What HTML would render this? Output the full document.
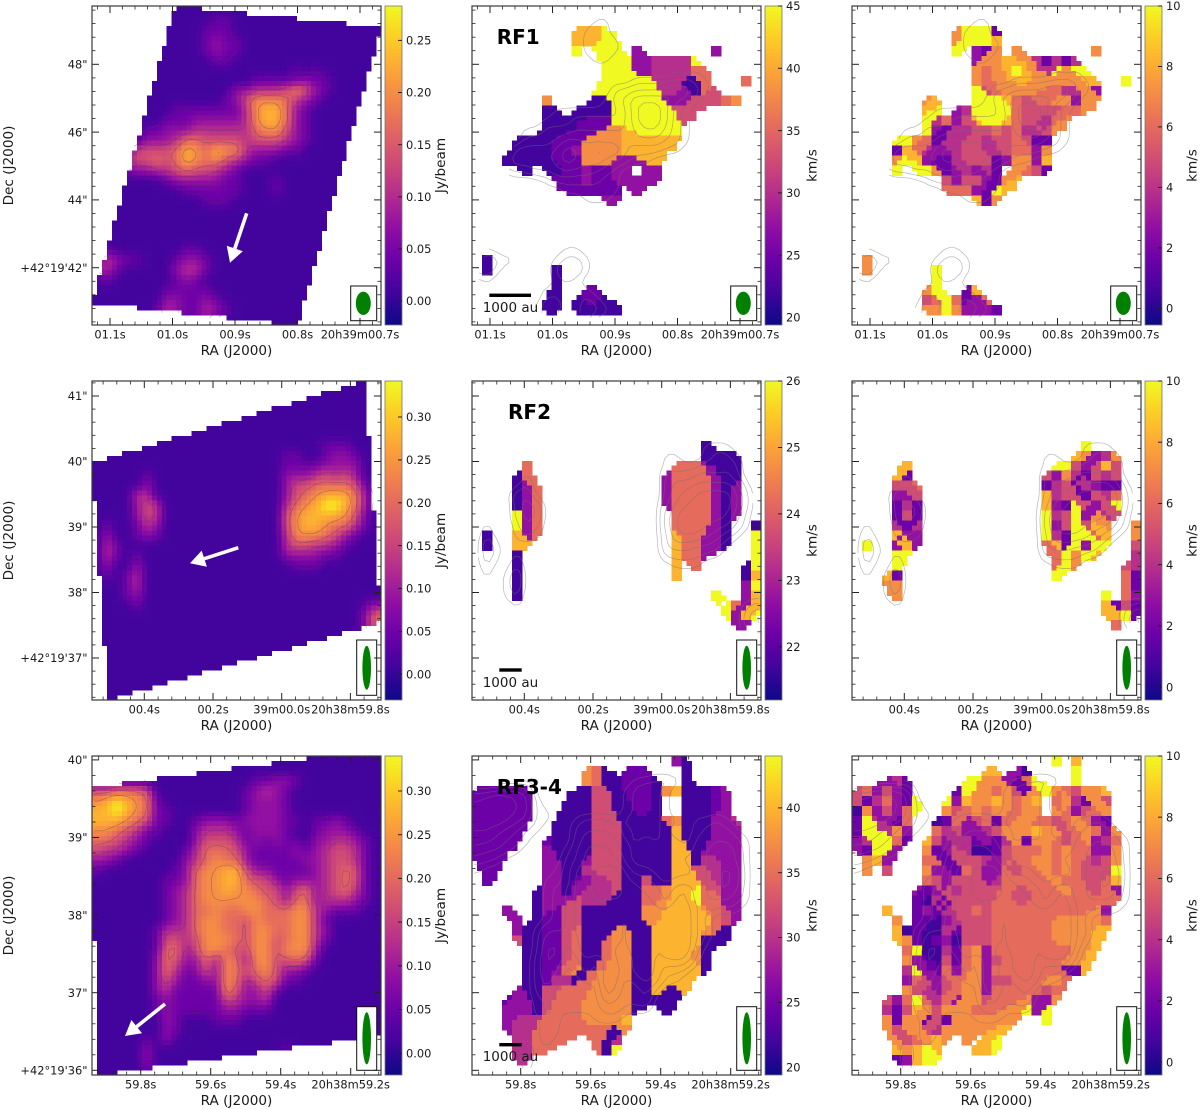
<!DOCTYPE html>
<html lang="en">
<head>
<meta charset="utf-8">
<title>RF1, RF2 and RF3-4 intensity, velocity and line-width maps</title>
<style>
html,body{margin:0;padding:0;background:#fff;width:1200px;height:1110px;overflow:hidden}
svg{display:block}
text{font-family:"DejaVu Sans","Liberation Sans",sans-serif;fill:#1a1a1a}
</style>
</head>
<body>
<svg id="figure" xmlns="http://www.w3.org/2000/svg" width="1200" height="1110" viewBox="0 0 1200 1110"></svg>
<script>
// Map values: each character is a level 0-9 across the panel's colorbar range; '.' is blank.
const rf1IntensityValues = [
"11111111111111111111111111111","11111111111122111111111111111","11111111111222111111111111111","11111111111232211111111111111",
"11111111111232211111111111111","11111111111122111111111111111","11111111111111111111212111111","11111111111111112222232211111",
"11111111111111334445753211111","11111111111112357776432111111","11111111222222247886321111111","11111112223333347886321111111",
"11111223334444446775321111111","11111333466555545554321111111","11115555687687743332211111111","11145565687675432211111111111",
"11123344565543211111111111111","11111112333332211121111111111","11111111122222211121111111111","11111111111222111111111111111",
"1","1","1","1",
"12111111122","243221112332","342111113442","12111111232",
"111111122222","1111111332232","11111124322432","111111132223"
];
const rf1VelocityValues = [
"","",
"..........8889","..........88899","..........9.999.3.......3",".............9993344449",
".............99933444466",".............99999444116...6","............9999999443165",".......7....119999933355567",
".......11.1111999999555",".......111122299999995",".......11122277899999","....11112227777888888",
"....1111223777788888","...1111122277733388",".....1.112232233.33","........22232233333",
".........222222.3",".............33","","","","",
"",".1",".1......1","........1","........1..22",".......11.1221",".......11.11111",""
];
const rf1WidthValues = [
"","",
"..........79992","..........79998","..........9.327.7.......7","............37788742424",
"............767898749799","............7677887777788..9","............9567777664473",".......78...9998656677377",
".......89.34999965555667",".......946358998655467",".......93244556564457","....9976244554556522",
"....2864334554456637","....7983224555237738","....9.997234342.7652",".........53553278",
".........6663298","............827","","","","",
"",".7",".7......9","........9",".......79..28",".......5696236",".......77973332",""
];
const rf2IntensityValues = [
"1","1","1","1","1","1",
"11111111111111111111111222","111111111111111111122112332","111111111111111111122223333","111112111111111111133345453",
"1111131111111111111355666652","1111441111111111111356788863","1111354111111111111467899863","1111354111111111111578888752",
"1211243111111111111578876642","131123211111111111147776532","14211111111111111114554432","1421211111111111111333322",
"13113111111111111111222","12124","11124","11123",
"11112111111111111111111111123","11111111111111111111111111136","11111111111111111111111111136","1","1","1","1","1","1","1"
];
const rf2VelocityValues = [
"","","","","","",
".......................1",".......................1111",".....6..............6663111","....16.............36666311",
"....136............36666313","....136............36666313","....136............36666313","....936.............6666313",
"....936.............666631..1",".1..836.............866331..9",".1..88..............866331..9","....1...............8663....9",
"....1...............8.6....19","....1...............8......18","....1......................39","....1...................9..38",
".........................9638",".........................9389","..........................33","","","","","","",""
];
const rf2WidthValues = [
"","","","","","",
".......................9","......................87347",".....8..............9953585","....82.............53742545",
"....556............24524322","....335............84552546","....242............83295359","....252............94593745",
"....424............9359587..7","....833............9429968..7",".9..383............6829399..5","....99..............69798...4",
"....9...............697....54","...82...............9......62","...77......................62","....7....................9.63",
".........................8252",".........................8892","..........................6","","","","","","",""
];
const rf34IntensityValues = [
"1","1","11111111111111112233211","55666511111111123432","78987621111111123332","88987622111111123332",
"88876522112333233332212232111","77654221113444323332112333211","66543211113555423232213344321","54432111124666532222323455421",
"33211111134676632222233455421","21111111236778853322223456521","11111112236778865532333456521","11111112346778776553563456421",
"11111112346777777653663444321","11111112346676677666774322211","11111112346776657666774211111","11111124446776657766774311111",
"11111125545777657756774211111","11111126635776557757773111111","11111136533637637755652111111","11111136423537656753321111111",
"11111135322337635652211111111","11111134222227533521111111111","11111123222225433411111111111","11111123222223322211111111111",
"11111113211122211111","111111132111","11111213111111111111","11111311111111111112","11111311111111111112","111112"
];
const rf34VelocityValues = [
"....................31","...........761.222...1","...........76112221..1","222222....1155122217811123",
"222222...1115511221..11123","222222...1115511221..11123","222222..1111555111167111334","22222...1111555111118111333",
"22222..21111555111118111333","2222...31111555111118813333","222....33113555111118814433",".22....33114555111118855433",
".2.....33123445115118885433","......133134445116678896533","......133354441116678896633","...3..132551111117788887653",
"....3.122551111117788888653","....3112256111771188888761","....5112256116771188888111",".....1122561167711888871",
".....1122561167711888871",".....1123671677711888881",".....11244167777118888","....311556667777118118",
"...233156667777711111","...33315666777771..1","...3444666677778","...3446666666617",
"....446666..614","....4466....619","....44",""
];
const rf34WidthValues = [
"....................9.8",".............88.31....9","...342.....99773269...9","563532....2977675279765778",
"5246329..9387787678.674275","1735369..7567677677.763567","294326..126356267766567632","299473..6453345777877567637",
"349962.85344232472776567346","32993..72354112566676766337",".783...66255543566776765457",".7.5...73326533656676765559",
".......65355534666667665568","......323545555655666766563","......214255556655666666666","...8..23245565666666666673",
"....7.22134555666666777776","....8121142555666666777788","....872123155566666677778",".....69114267366666666778",
".....7321526735666666778",".....4932636736666666228",".....36535677355666776",".....7543567736666656",
"...536964637756667337","...42587577766677939","...72772527777777..9","...7577547777788",
"....756787.7.89","....87898...889","....23899",""
];
const rf1RaTicks = [1.1, 1.0, 0.9, 0.8, 0.7];
const rf1RaLabels = ["01.1s", "01.0s", "00.9s", "00.8s", "20h39m00.7s"];
const rf1DecTicks = [48, 46, 44, 42];
const rf1DecLabels = ['48"', '46"', '44"', "+42°19'42\""];
const rf2RaTicks = [0.4, 0.2, 0, -0.2];
const rf2RaLabels = ["00.4s", "00.2s", "39m00.0s", "20h38m59.8s"];
const rf2DecTicks = [41, 40, 39, 38, 37];
const rf2DecLabels = ['41"', '40"', '39"', '38"', "+42°19'37\""];
const rf34RaTicks = [-0.2, -0.4, -0.6, -0.8];
const rf34RaLabels = ["59.8s", "59.6s", "59.4s", "20h38m59.2s"];
const rf34DecTicks = [40, 39, 38, 37, 36];
const rf34DecLabels = ['40"', '39"', '38"', '37"', "+42°19'36\""];
const rf1IntensityBarTicks = [0, 0.05, 0.10, 0.15, 0.20, 0.25];
const rf1VelocityBarTicks = [20, 25, 30, 35, 40, 45];
const rf1WidthBarTicks = [0, 2, 4, 6, 8, 10];
const rf2IntensityBarTicks = [0, 0.05, 0.10, 0.15, 0.20, 0.25, 0.30];
const rf2VelocityBarTicks = [22, 23, 24, 25, 26];
const rf2WidthBarTicks = [0, 2, 4, 6, 8, 10];
const rf34IntensityBarTicks = [0, 0.05, 0.10, 0.15, 0.20, 0.25, 0.30];
const rf34VelocityBarTicks = [20, 25, 30, 35, 40];
const rf34WidthBarTicks = [0, 2, 4, 6, 8, 10];
const contourLevels = [1.7, 2.6, 4, 5.5, 7];

const plasmaStops = ["#0d0887","#41049d","#6a00a8","#8f0da4","#b12a90","#cc4778","#e16462","#f2844b","#fca636","#fcce25","#f0f921"];
const NS = "http://www.w3.org/2000/svg";
const svg = document.getElementById("figure");
const GRID_COLS = 29, GRID_ROWS = 32, SUB = 2;

function make(parent, tag, name, props) {
  const el = document.createElementNS(NS, tag);
  
  
  for (const k in props) el.setAttribute(k, props[k]);
  parent.appendChild(el);
  return el;
}
function label(parent, name, str, props) {
  const el = make(parent, "text", name, props);
  el.textContent = str;
  return el;
}
function hexRgb(h) { return [1, 3, 5].map(i => parseInt(h.substr(i, 2), 16)); }
const plasmaRgb = plasmaStops.map(hexRgb);
function plasma(t) {
  t = Math.max(0, Math.min(1, t));
  const p = t * 10, i = Math.min(9, Math.floor(p)), f = p - i;
  const a = plasmaRgb[i], b = plasmaRgb[i + 1];
  return "rgb(" + a.map((v, k) => Math.round(v + (b[k] - v) * f)).join(",") + ")";
}
function levelFraction(d) { return d <= 8 ? d / 9.6 : 0.8333 + (d - 8) * 0.1667; }
function inside(poly, ra, dec) {
  let hit = false;
  for (let i = 0, j = poly.length - 1; i < poly.length; j = i++) {
    const a = poly[i], b = poly[j];
    if ((a[1] > dec) !== (b[1] > dec) && ra < (b[0] - a[0]) * (dec - a[1]) / (b[1] - a[1]) + a[0]) hit = !hit;
  }
  return hit;
}
function parseGrid(rows, pad) {
  const out = [];
  for (let j = 0; j < GRID_ROWS; j++) {
    const s = (rows[j] || "").padEnd(GRID_COLS, pad), line = [];
    for (let i = 0; i < GRID_COLS; i++) {
      const n = parseInt(s[i], 10);
      line.push(isNaN(n) ? null : n);
    }
    out.push(line);
  }
  return out;
}
// Doubles a discrete map's resolution (EPX rule) so region edges read as finer steps.
function doubleGrid(g) {
  const at = (i, j) => (j < 0 || j >= GRID_ROWS || i < 0 || i >= GRID_COLS) ? null : g[j][i];
  const out = [];
  for (let j = 0; j < GRID_ROWS * 2; j++) out.push(new Array(GRID_COLS * 2).fill(null));
  for (let j = 0; j < GRID_ROWS; j++) for (let i = 0; i < GRID_COLS; i++) {
    const p = at(i, j), a = at(i, j - 1), b = at(i + 1, j), c = at(i - 1, j), d = at(i, j + 1);
    out[2 * j][2 * i] = (c === a && c !== d && a !== b) ? a : p;
    out[2 * j][2 * i + 1] = (a === b && a !== c && b !== d) ? b : p;
    out[2 * j + 1][2 * i] = (d === c && d !== b && c !== a) ? c : p;
    out[2 * j + 1][2 * i + 1] = (b === d && b !== a && d !== c) ? d : p;
  }
  return out;
}
// Bilinear upsample of the coarse intensity grid followed by a 1-2-1 blur.
function smoothField(g) {
  const nx = GRID_COLS * SUB, ny = GRID_ROWS * SUB, raw = [];
  for (let sj = 0; sj < ny; sj++) {
    const line = [];
    for (let si = 0; si < nx; si++) {
      const gx = Math.max(0, Math.min(GRID_COLS - 1.001, (si + 0.5) / SUB - 0.5));
      const gy = Math.max(0, Math.min(GRID_ROWS - 1.001, (sj + 0.5) / SUB - 0.5));
      const i = Math.floor(gx), j = Math.floor(gy), fx = gx - i, fy = gy - j;
      line.push(g[j][i] * (1 - fx) * (1 - fy) + g[j][i + 1] * fx * (1 - fy) + g[j + 1][i] * (1 - fx) * fy + g[j + 1][i + 1] * fx * fy);
    }
    raw.push(line);
  }
  const at = (i, j) => raw[Math.max(0, Math.min(ny - 1, j))][Math.max(0, Math.min(nx - 1, i))];
  const out = [];
  for (let j = 0; j < ny; j++) {
    const line = [];
    for (let i = 0; i < nx; i++) {
      let s = 0;
      for (let b = -1; b <= 1; b++) for (let a = -1; a <= 1; a++) s += at(i + a, j + b) * (a ? 1 : 2) * (b ? 1 : 2);
      line.push(s / 16);
    }
    out.push(line);
  }
  return out;
}

const defs = make(svg, "defs", "gradient-definitions", {});
const grad = make(defs, "linearGradient", "plasma-gradient", {id: "plasmaBar", x1: 0, y1: 1, x2: 0, y2: 0});
plasmaStops.forEach((c, i) => {
  make(grad, "stop", "plasma-stop", {offset: (i * 10) + "%", "stop-color": c});
});

const figureRows = [
  {key: "rf1", top: 6, bottom: 325, raRange: [1.1288, 0.6664], decRange: [49.72, 40.31],
   raTicks: rf1RaTicks, raLabels: rf1RaLabels, raMinor: 0.02, decTicks: rf1DecTicks, decLabels: rf1DecLabels, decMinor: 0.4,
   footprint: [[0.996, 49.72], [0.6664, 49.10], [0.8008, 40.31], [1.1288, 40.96]],
   beamBox: [350.7, 286, 26, 34.7], beam: [363.3, 303.3, 7.5, 11.7],
   arrow: [246.7, 213.3, 230, 262.7], bar: [489.3, 531, 295.3], barText: 312,
   tag: "RF1", tagX: 496.7, tagY: 44,
   maps: [{data: rf1IntensityValues, smooth: true, v: [-0.023, 0.283], ticks: rf1IntensityBarTicks, digits: 2},
          {data: rf1VelocityValues, v: [19.4, 45], ticks: rf1VelocityBarTicks, digits: 0},
          {data: rf1WidthValues, v: [-0.55, 10], ticks: rf1WidthBarTicks, digits: 0}]},
  {key: "rf2", top: 381, bottom: 700, raRange: [0.5523, -0.2891], decRange: [41.229, 36.359],
   raTicks: rf2RaTicks, raLabels: rf2RaLabels, raMinor: 0.04, decTicks: rf2DecTicks, decLabels: rf2DecLabels, decMinor: 0.2,
   footprint: [[0.5523, 39.98], [-0.2425, 41.229], [-0.2891, 37.55], [0.5057, 36.359]],
   beamBox: [356.7, 640, 20, 55.3], beam: [366.7, 667.7, 4.3, 22],
   arrow: [238.3, 547.7, 190, 563.3], bar: [499.3, 521.7, 670], barText: 687,
   tag: "RF2", tagX: 508, tagY: 419,
   maps: [{data: rf2IntensityValues, smooth: true, v: [-0.03, 0.342], ticks: rf2IntensityBarTicks, digits: 2},
          {data: rf2VelocityValues, v: [21.2, 26], ticks: rf2VelocityBarTicks, digits: 0},
          {data: rf2WidthValues, v: [-0.42, 10], ticks: rf2WidthBarTicks, digits: 0}]},
  {key: "rf3-4", top: 756, bottom: 1075, raRange: [-0.0609, -0.8866], decRange: [40.05, 35.94],
   raTicks: rf34RaTicks, raLabels: rf34RaLabels, raMinor: 0.04, decTicks: rf34DecTicks, decLabels: rf34DecLabels, decMinor: 0.2,
   footprint: [[-0.0609, 39.65], [-0.7323, 40.05], [-0.8866, 40.05], [-0.8866, 36.45], [-0.0743, 35.94]],
   beamBox: [356.7, 1006.7, 20, 63.6], beam: [366.7, 1038.3, 4.3, 26],
   arrow: [165, 1004, 125, 1036], bar: [499.3, 521.7, 1044.7], barText: 1061,
   tag: "RF3-4", tagX: 496.7, tagY: 794,
   maps: [{data: rf34IntensityValues, smooth: true, v: [-0.025, 0.34], ticks: rf34IntensityBarTicks, digits: 2},
          {data: rf34VelocityValues, v: [19.4, 44], ticks: rf34VelocityBarTicks, digits: 0},
          {data: rf34WidthValues, v: [-0.42, 10], ticks: rf34WidthBarTicks, digits: 0}]}
];
const columnLefts = [92, 472, 852];
const PANEL_W = 289, BAR_GAP = 4, BAR_W = 17;
const columnNames = ["intensity", "velocity", "width"];
const sideTitles = ["Jy/beam", "km/s", "km/s"];
const sideTitleX = [445, 816.7, 1196.7];

function contourPath(field, level, xOf, yOf, row) {
  let d = "";
  const ny = field.length, nx = field[0].length;
  const toU = p => (p + 0.5) / SUB;
  for (let j = 0; j < ny - 1; j++) for (let i = 0; i < nx - 1; i++) {
    const a = field[j][i], b = field[j][i + 1], c = field[j + 1][i + 1], e = field[j + 1][i];
    const pts = [];
    if ((a < level) !== (b < level)) pts.push([i + (level - a) / (b - a), j]);
    if ((b < level) !== (c < level)) pts.push([i + 1, j + (level - b) / (c - b)]);
    if ((e < level) !== (c < level)) pts.push([i + (level - e) / (c - e), j + 1]);
    if ((a < level) !== (e < level)) pts.push([i, j + (level - a) / (e - a)]);
    for (let k = 0; k + 1 < pts.length; k += 2) {
      const p = pts[k], q = pts[k + 1];
      const mu = toU((p[0] + q[0]) / 2), mv = toU((p[1] + q[1]) / 2);
      const ra = row.raRange[0] + (row.raRange[1] - row.raRange[0]) * mu / GRID_COLS;
      const dec = row.decRange[0] + (row.decRange[1] - row.decRange[0]) * mv / GRID_ROWS;
      if (!inside(row.footprint, ra, dec)) continue;
      d += "M" + xOf(toU(p[0])).toFixed(1) + " " + yOf(toU(p[1])).toFixed(1) + "L" + xOf(toU(q[0])).toFixed(1) + " " + yOf(toU(q[1])).toFixed(1);
    }
  }
  return d;
}

figureRows.forEach((row) => {
  const intensityField = smoothField(parseGrid(row.maps[0].data, "1"));
  row.maps.forEach((map, col) => {
    const left = columnLefts[col], right = left + PANEL_W;
    const ra2x = ra => left + (ra - row.raRange[0]) / (row.raRange[1] - row.raRange[0]) * PANEL_W;
    const dec2y = dec => row.top + (dec - row.decRange[0]) / (row.decRange[1] - row.decRange[0]) * (row.bottom - row.top);
    const uToRa = u => row.raRange[0] + (row.raRange[1] - row.raRange[0]) * u / GRID_COLS;
    const vToDec = v => row.decRange[0] + (row.decRange[1] - row.decRange[0]) * v / GRID_ROWS;
    const level2value = d => map.v[0] + levelFraction(d) * (map.v[1] - map.v[0]);
    const value2color = val => plasma((val - map.v[0]) / (map.v[1] - map.v[0]));
    const panel = make(svg, "g", row.key + "-" + columnNames[col] + "-panel", {});
    const cells = make(panel, "g", "heatmap", {"shape-rendering": "crispEdges"});

    if (map.smooth) {
      for (let sj = 0; sj < GRID_ROWS * SUB; sj++) for (let si = 0; si < GRID_COLS * SUB; si++) {
        const u = (si + 0.5) / SUB, v = (sj + 0.5) / SUB;
        if (!inside(row.footprint, uToRa(u), vToDec(v))) continue;
        const x0 = ra2x(uToRa(si / SUB)), y0 = dec2y(vToDec(sj / SUB));
        const x1 = ra2x(uToRa((si + 1) / SUB)), y1 = dec2y(vToDec((sj + 1) / SUB));
        const el = document.createElementNS(NS, "rect");
        
        
        el.setAttribute("x", x0.toFixed(1));
        el.setAttribute("y", y0.toFixed(1));
        el.setAttribute("width", (x1 - x0 + 0.6).toFixed(1));
        el.setAttribute("height", (y1 - y0 + 0.6).toFixed(1));
        el.setAttribute("fill", value2color(level2value(intensityField[sj][si])));
        cells.appendChild(el);
      }
    } else {
      const g = doubleGrid(parseGrid(map.data, "."));
      for (let j = 0; j < GRID_ROWS * 2; j++) for (let i = 0; i < GRID_COLS * 2; i++) {
        if (g[j][i] === null) continue;
        const x0 = ra2x(uToRa(i / 2)), y0 = dec2y(vToDec(j / 2));
        const x1 = ra2x(uToRa((i + 1) / 2)), y1 = dec2y(vToDec((j + 1) / 2));
        const el = document.createElementNS(NS, "rect");
        
        
        el.setAttribute("x", x0.toFixed(1));
        el.setAttribute("y", y0.toFixed(1));
        el.setAttribute("width", (x1 - x0 + 0.5).toFixed(1));
        el.setAttribute("height", (y1 - y0 + 0.5).toFixed(1));
        el.setAttribute("fill", value2color(level2value(g[j][i])));
        cells.appendChild(el);
      }
    }

    const cg = make(panel, "g", "intensity-contours", {fill: "none", stroke: col === 0 ? "#4a3a55" : "#707070", "stroke-width": 0.7, "stroke-opacity": col === 0 ? 0.4 : 0.5, "stroke-linecap": "round"});
    contourLevels.forEach(level => {
      const d = contourPath(intensityField, level, u => ra2x(uToRa(u)), v => dec2y(vToDec(v)), row);
      make(cg, "path", "contour-line", {d: d});
    });

    if (col === 0) {
      const a = row.arrow, dx = a[2] - a[0], dy = a[3] - a[1], len = Math.hypot(dx, dy), ux = dx / len, uy = dy / len;
      const bx = a[2] - ux * 15, by = a[3] - uy * 15;
      const ag = make(panel, "g", "outflow-direction-arrow", {});
      make(ag, "line", "arrow-shaft", {x1: a[0], y1: a[1], x2: bx, y2: by, stroke: "#fff", "stroke-width": 3.6});
      make(ag, "polygon", "arrow-head", {fill: "#fff", points: [a[2], a[3], bx - uy * 8.5 , by + ux * 8.5, bx + uy * 8.5, by - ux * 8.5].join(",")});
    }
    if (col === 1) {
      make(panel, "rect", "scale-bar", {x: row.bar[0], y: row.bar[2] - 1.7, width: row.bar[1] - row.bar[0], height: 3.4, fill: "#000"});
      label(panel, "scale-bar-label", "1000 au", {x: 482.7, y: row.barText, "font-size": 13.5});
    }

    make(panel, "rect", "beam-box", {x: left - 92 + row.beamBox[0], y: row.beamBox[1], width: row.beamBox[2], height: row.beamBox[3], fill: "#fff", stroke: "#111", "stroke-width": 1});
    make(panel, "ellipse", "beam-ellipse", {cx: left - 92 + row.beam[0], cy: row.beam[1], rx: row.beam[2], ry: row.beam[3], fill: "#008000"});

    const ticks = make(panel, "g", "axis-ticks", {stroke: "#222"});
    const drawX = (ra, len, w, nm) => {
      const x = ra2x(ra).toFixed(1);
      make(ticks, "line", nm, {x1: x, x2: x, y1: row.bottom, y2: row.bottom - len, "stroke-width": w});
      make(ticks, "line", nm, {x1: x, x2: x, y1: row.top, y2: row.top + len, "stroke-width": w});
    };
    const drawY = (dec, len, w, nm) => {
      const y = dec2y(dec).toFixed(1);
      make(ticks, "line", nm, {x1: left, x2: left + len, y1: y, y2: y, "stroke-width": w});
      make(ticks, "line", nm, {x1: right, x2: right - len, y1: y, y2: y, "stroke-width": w});
    };
    const raLo = Math.min(row.raRange[0], row.raRange[1]), raHi = Math.max(row.raRange[0], row.raRange[1]);
    for (let k = Math.ceil(raLo / row.raMinor); k * row.raMinor <= raHi; k++) {
      const ra = k * row.raMinor;
      if (!row.raTicks.some(t => Math.abs(t - ra) < 1e-6)) drawX(ra, 3.5, 0.8, "ra-minor-tick");
    }
    const decLo = row.decRange[1], decHi = row.decRange[0];
    for (let k = Math.ceil(decLo / row.decMinor); k * row.decMinor <= decHi; k++) {
      const dec = k * row.decMinor;
      if (!row.decTicks.some(t => Math.abs(t - dec) < 1e-6)) drawY(dec, 3.5, 0.8, "dec-minor-tick");
    }
    row.raTicks.forEach(t => drawX(t, 7, 1, "ra-major-tick"));
    row.decTicks.forEach(t => drawY(t, 7, 1, "dec-major-tick"));
    make(panel, "rect", "panel-frame", {x: left, y: row.top, width: PANEL_W, height: row.bottom - row.top, fill: "none", stroke: "#3a3a3a", "stroke-width": 1.2});

    row.raTicks.forEach((t, i) => {
      label(panel, "ra-tick-label", row.raLabels[i], {x: ra2x(t).toFixed(1), y: row.bottom + 13.5, "font-size": 11.4, "text-anchor": "middle"});
    });
    label(panel, "ra-axis-title", "RA (J2000)", {x: left + PANEL_W / 2, y: row.bottom + 30, "font-size": 13.6, "text-anchor": "middle"});
    if (col === 0) {
      row.decTicks.forEach((t, i) => {
        label(panel, "dec-tick-label", row.decLabels[i], {x: 87.5, y: (dec2y(t) + 4.2).toFixed(1), "font-size": 11.4, "text-anchor": "end"});
      });
      label(panel, "dec-axis-title", "Dec (J2000)", {transform: "translate(13," + ((row.top + row.bottom) / 2) + ") rotate(-90)", "font-size": 13.6, "text-anchor": "middle"});
    }
    if (col === 1) {
      label(panel, "region-label", row.tag, {x: row.tagX, y: row.tagY, "font-size": 20, "font-weight": "bold", style: "fill:#000"});
    }

    const barX = right + BAR_GAP;
    const bar = make(panel, "g", "colorbar", {});
    make(bar, "rect", "colorbar-ramp", {x: barX, y: row.top, width: BAR_W, height: row.bottom - row.top, fill: "url(#plasmaBar)", stroke: "#777", "stroke-width": 0.8});
    const v2y = val => row.bottom - (val - map.v[0]) / (map.v[1] - map.v[0]) * (row.bottom - row.top);
    map.ticks.forEach(t => {
      const y = v2y(t).toFixed(1);
      make(bar, "line", "colorbar-tick", {x1: barX + BAR_W - 4, x2: barX + BAR_W, y1: y, y2: y, stroke: "#222", "stroke-width": 1});
      label(bar, "colorbar-tick-label", t.toFixed(map.digits), {x: barX + BAR_W + 4, y: (+y + 4.2).toFixed(1), "font-size": 11.4});
    });
    label(bar, "colorbar-title", sideTitles[col], {transform: "translate(" + sideTitleX[col] + "," + ((row.top + row.bottom) / 2) + ") rotate(-90)", "font-size": 13.6, "text-anchor": "middle"});
  });
});
</script>
</body>
</html>
